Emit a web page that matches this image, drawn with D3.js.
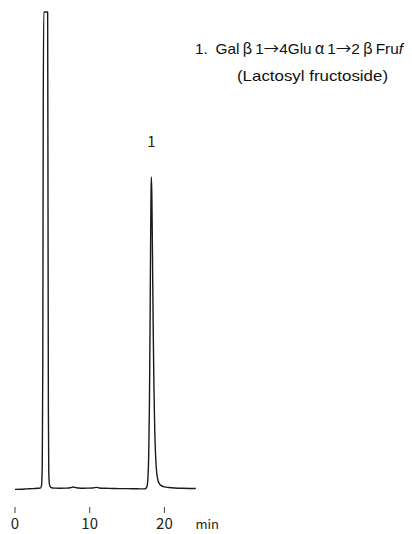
<!DOCTYPE html>
<html>
<head>
<meta charset="utf-8">
<script src="https://cdn.jsdelivr.net/npm/d3@7"></script>
<style>
  html, body { margin: 0; padding: 0; background: #fff; }
  svg { display: block; }
</style>
</head>
<body>
<svg id="chart" width="412" height="534"></svg>
<script>
// Retention time (min) and detector response (peak 1 apex = 100)
const times = [
  0.0, 0.8, 1.6, 2.4, 3.0, 3.4, 3.55, 3.65, 3.72, 3.78, 3.85, 3.95,
  4.30, 4.37, 4.42, 4.47, 4.52, 4.6, 4.72, 4.9, 5.4, 6.0, 6.8, 7.4,
  7.8, 8.2, 8.8, 9.6, 10.4, 10.9, 11.3, 12.0, 13.0, 14.0, 15.0, 16.0,
  16.8, 17.3, 17.55, 17.7, 17.8, 17.9, 18.0, 18.08, 18.15, 18.21, 18.26,
  18.32, 18.4, 18.5, 18.6, 18.7, 18.82, 18.95, 19.1, 19.3, 19.6, 20.0,
  20.6, 21.4, 22.4, 23.4, 24.2
];
const response = [
  0.2, 0.25, 0.35, 0.45, 0.55, 0.6, 1.5, 8, 40, 120, 260, 400,
  400, 220, 90, 25, 6, 2, 1.0, 0.7, 0.6, 0.55, 0.6, 0.7,
  0.95, 0.7, 0.55, 0.6, 0.65, 0.85, 0.65, 0.55, 0.5, 0.45, 0.45, 0.4,
  0.35, 0.35, 0.6, 1.5, 4, 11, 28, 52, 78, 95, 100,
  94, 76, 52, 33, 20, 11, 6, 3.5, 2.1, 1.4, 1.0,
  0.8, 0.65, 0.55, 0.5, 0.5
];

// Axis ticks and peak annotations
const tickValues = [0, 10, 20];
const tickLabels = ["0", "10", "20"];
const axisUnit = "min";
const peakNumbers = ["1"];
const peakTimes = [18.26];
const peakHeights = [100];
// Legend pieces: [text, font kind]
const compoundLine1 = [
  ["1.", "latin"], ["\u2002Gal\u2009", "latin"], ["\u03B2", "cjk"], ["\u20091", "latin"],
  ["\u2192", "cjk"], ["4Glu\u2009", "latin"], ["\u03B1", "cjk"], ["\u20091", "latin"],
  ["\u2192", "cjk"], ["2\u2009", "latin"], ["\u03B2", "cjk"], ["\u2009Fru", "latin"], ["f", "italic"]
];
const compoundLine2 = "(Lactosyl fructoside)";

const svg = d3.select("#chart");

const x = d3.scaleLinear().domain([0, 20]).range([15, 164.4]);
const y = d3.scaleLinear().domain([0, 152.7]).range([490, 12]).clamp(true);

const trace = d3.zip(times, response);

svg.append("path")
  .datum(trace)
  .attr("fill", "none")
  .attr("stroke", "#1a1a1a")
  .attr("stroke-width", 1.4)
  .attr("stroke-linejoin", "round")
  .attr("d", d3.line()
    .x(d => x(d[0]))
    .y(d => y(d[1]))
    .curve(d3.curveMonotoneX));

// Time axis: ticks and labels only, no domain line
const axis = svg.append("g").attr("transform", "translate(0,507)");
axis.selectAll("line.tick")
  .data(tickValues)
  .join("line")
  .attr("class", "tick")
  .attr("x1", d => x(d)).attr("x2", d => x(d))
  .attr("y1", 0).attr("y2", 6)
  .attr("stroke", "#444").attr("stroke-width", 1);

axis.selectAll("text.tlabel")
  .data(tickValues)
  .join("text")
  .attr("class", "tlabel")
  .attr("x", d => x(d))
  .attr("y", 22)
  .attr("text-anchor", "middle")
  .attr("font-family", "'Noto Sans CJK JP', 'Noto Sans', sans-serif")
  .attr("font-size", 15)
  .attr("fill", "#222")
  .text((d, i) => tickLabels[i]);

axis.append("text")
  .attr("x", x(20) + 31)
  .attr("y", 22)
  .attr("font-family", "'Noto Sans CJK JP', 'Noto Sans', sans-serif")
  .attr("font-size", 13)
  .attr("fill", "#222")
  .text(axisUnit);

// Peak number above each peak
svg.selectAll("text.peak")
  .data(peakNumbers)
  .join("text")
  .attr("class", "peak")
  .attr("x", (d, i) => x(peakTimes[i]))
  .attr("y", (d, i) => y(peakHeights[i]) - 30)
  .attr("text-anchor", "middle")
  .attr("font-family", "'Noto Sans CJK JP', 'Noto Sans', sans-serif")
  .attr("font-size", 15)
  .attr("fill", "#222")
  .text(d => d);

// Compound legend
const latin = "'Liberation Sans', Arial, sans-serif";
const cjk = "'Noto Sans CJK JP', sans-serif";
const legend = svg.append("g").attr("font-family", latin).attr("fill", "#111");
const l1 = legend.append("text")
  .attr("x", 195).attr("y", 54)
  .attr("font-size", 15)
  .attr("textLength", 208)
  .attr("lengthAdjust", "spacingAndGlyphs");
compoundLine1.forEach(([s, kind]) => {
  l1.append("tspan")
    .attr("font-family", kind === "cjk" ? cjk : latin)
    .attr("font-style", kind === "italic" ? "italic" : null)
    .text(s);
});
legend.append("text")
  .attr("x", 237).attr("y", 81)
  .attr("font-size", 15)
  .attr("textLength", 151)
  .attr("lengthAdjust", "spacingAndGlyphs")
  .text(compoundLine2);
</script>
</body>
</html>
